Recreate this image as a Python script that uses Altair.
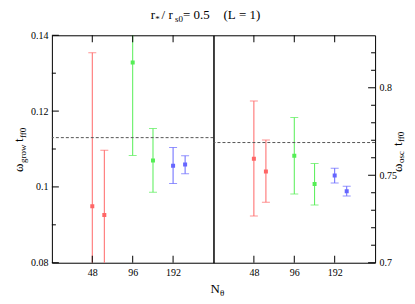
import altair as alt
import pandas as pd

# ---- data ----
n_theta = [48, 59, 96, 136, 192, 236]
group = ["48", "48", "96", "96", "192", "192"]
grow = [0.0949, 0.0926, 0.1328, 0.1070, 0.1056, 0.1059]
grow_lo = [0.0544, 0.0755, 0.1083, 0.0986, 0.1009, 0.1035]
grow_hi = [0.1354, 0.1097, 0.1573, 0.1154, 0.1104, 0.1082]
osc = [0.7594, 0.7521, 0.7612, 0.7450, 0.7498, 0.7409]
osc_lo = [0.7267, 0.7346, 0.7393, 0.7330, 0.7456, 0.7382]
osc_hi = [0.7924, 0.7701, 0.7830, 0.7567, 0.7540, 0.7437]
grow_ref = [0.113]
osc_ref = [0.7687]
x_ticks = [48, 96, 192]
grow_major = [0.08, 0.10, 0.12, 0.14]
grow_minor = [0.09, 0.11, 0.13]
osc_major = [0.70, 0.75, 0.80]
osc_minor = [0.71, 0.72, 0.73, 0.74, 0.76, 0.77, 0.78, 0.79, 0.81, 0.82]

W, H = 162, 228
FONT = "Liberation Serif"
NB = "\u00a0"
groups = ["48", "96", "192"]
bar_colors = ["#ff6666", "#55ee55", "#6666ff"]
pt_colors = ["#ff0000", "#00ee00", "#0000ff"]

df = pd.DataFrame({"n": n_theta, "g": group, "grow": grow, "grow_lo": grow_lo,
                   "grow_hi": grow_hi, "osc": osc, "osc_lo": osc_lo, "osc_hi": osc_hi})

xscale = alt.Scale(type="log", base=2, domain=[24, 384], nice=False)
one = pd.DataFrame({"a": [0]})


def text(s, x, y, size, angle=0):
    return alt.Chart(one).mark_text(text=s, font=FONT, fontSize=size, align="left",
                                    baseline="alphabetic", angle=angle, color="black").encode(
        x=alt.value(x), y=alt.value(y))


def panel(val, lo, hi, domain, ref, major, minor, ylabels, orient, labels_layers):
    yscale = alt.Scale(domain=domain, nice=False, zero=False)
    base = alt.Chart(df)
    xenc = alt.X("n:Q", scale=xscale,
                 axis=alt.Axis(values=x_ticks, ticks=False, domain=False, grid=False,
                               labelFont=FONT, labelFontSize=10, labelPadding=5,
                               labelColor="black", title=None, format="d"))
    ccol = alt.Color("g:N", scale=alt.Scale(domain=groups, range=bar_colors), legend=None)
    pcol = alt.Color("g:N", scale=alt.Scale(domain=groups, range=pt_colors), legend=None)
    yax = alt.Axis(values=ylabels, ticks=False, domain=False, grid=False, orient=orient,
                   labelFont=FONT, labelFontSize=10, labelPadding=4, labelColor="black",
                   title=None, format="~g")
    bars = base.mark_rule(clip=True, strokeWidth=1).encode(
        x=xenc, y=alt.Y(f"{lo}:Q", scale=yscale, axis=yax), y2=f"{hi}:Q", color=ccol)
    cap_lo = base.mark_tick(clip=True, orient="horizontal", size=8, thickness=1).encode(
        x="n:Q", y=f"{lo}:Q", color=ccol)
    cap_hi = base.mark_tick(clip=True, orient="horizontal", size=8, thickness=1).encode(
        x="n:Q", y=f"{hi}:Q", color=ccol)
    pts = base.mark_square(size=16, opacity=1, clip=True).encode(
        x="n:Q", y=f"{val}:Q", color=pcol)
    refl = alt.Chart(pd.DataFrame({"r": ref})).mark_rule(
        color="#555555", strokeDash=[3, 2], strokeWidth=1).encode(y=alt.Y("r:Q", scale=yscale))
    if orient == "left":
        tmaj = alt.Chart(pd.DataFrame({"v": major})).mark_rule(color="black").encode(
            y=alt.Y("v:Q", scale=yscale), x=alt.value(0), x2=alt.value(7))
        tmin = alt.Chart(pd.DataFrame({"v": minor})).mark_rule(color="black").encode(
            y=alt.Y("v:Q", scale=yscale), x=alt.value(0), x2=alt.value(4))
    else:
        tmaj = alt.Chart(pd.DataFrame({"v": major})).mark_rule(color="black").encode(
            y=alt.Y("v:Q", scale=yscale), x=alt.value(W), x2=alt.value(W - 7))
        tmin = alt.Chart(pd.DataFrame({"v": minor})).mark_rule(color="black").encode(
            y=alt.Y("v:Q", scale=yscale), x=alt.value(W), x2=alt.value(W - 4))
    xb = alt.Chart(pd.DataFrame({"v": x_ticks})).mark_rule(color="black").encode(
        x=alt.X("v:Q", scale=xscale), y=alt.value(H), y2=alt.value(H - 7))
    xt = alt.Chart(pd.DataFrame({"v": x_ticks})).mark_rule(color="black").encode(
        x=alt.X("v:Q", scale=xscale), y=alt.value(0), y2=alt.value(7))
    return alt.layer(bars, cap_lo, cap_hi, refl, pts, tmaj, tmin, xb, xt,
                     *labels_layers).properties(width=W, height=H)


left_labels = [
    text("ω", -29, 137, 13, 270),
    text("grow", -26, 128, 9, 270),
    text("t", -29, 107, 13, 270),
    text("ff0", -26, 103, 9, 270),
    text("r", 99, -16, 13),
    text("*", 103.5, -13, 9),
    text(NB + "/" + NB + "r", 110, -16, 13),
    text("s0", 123.5, -13, 9),
    text(NB + "=" + NB + "0.5", 131.5, -16, 13),
    text("(L" + NB + "=" + NB + "1)", 172, -16, 13),
    text("N", 159, 258, 13),
    text("θ", 168.5, 261, 9),
]
right_labels = [
    text("ω", 189, 137, 13, 270),
    text("osc", 191, 128, 9, 270),
    text("t", 189, 111, 13, 270),
    text("ff0", 191, 107, 9, 270),
]

left = panel("grow", "grow_lo", "grow_hi", [0.08, 0.14], grow_ref, grow_major, grow_minor,
             grow_major, "left", left_labels)
right = panel("osc", "osc_lo", "osc_hi", [0.70, 0.83], osc_ref, osc_major, osc_minor,
              osc_major, "right", right_labels)

chart = alt.hconcat(left, right, spacing=0, bounds="flush").resolve_scale(
    color="independent").properties(
    padding={"left": 4, "top": 0, "right": 0, "bottom": -2}, background="white"
).configure_view(stroke="black", strokeWidth=1)

chart.save("out.html", embed_options={"renderer": "svg", "actions": False})
